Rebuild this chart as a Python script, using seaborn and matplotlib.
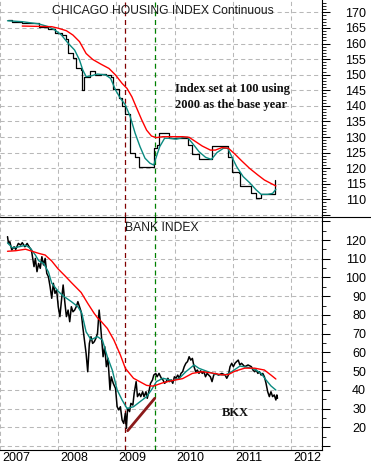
import numpy as np
import pandas as pd
import matplotlib
matplotlib.use("Agg")
import matplotlib.pyplot as plt
import matplotlib.transforms as mtransforms
from matplotlib.lines import Line2D
from matplotlib.ticker import MultipleLocator, FuncFormatter
import seaborn as sns

# ---------------- data (decimal years) ----------------
# Chicago housing index, monthly (drawn as steps)
house_year = [2007.129, 2007.213, 2007.382, 2007.663, 2007.831, 2007.944, 2008.056, 2008.140,
              2008.169, 2008.253, 2008.309, 2008.382, 2008.410, 2008.449, 2008.551, 2008.629,
              2008.730, 2008.815, 2008.899, 2008.944, 2009.039, 2009.096, 2009.140, 2009.236,
              2009.320, 2009.393, 2009.640, 2009.697, 2009.730, 2009.899, 2010.236, 2010.303,
              2010.416, 2010.640, 2010.910, 2010.989, 2011.101, 2011.118, 2011.303, 2011.399,
              2011.483, 2011.719]
house_value = [167.5, 167.0, 166.7, 165.2, 164.6, 163.3, 162.7, 161.3,
               157.1, 155.2, 152.0, 151.5, 145.1, 149.4, 151.3, 149.9,
               150.2, 149.9, 149.4, 145.3, 142.4, 140.0, 137.4, 125.0,
               123.7, 120.5, 126.4, 127.4, 131.2, 129.8, 127.4, 124.6,
               122.8, 127.1, 123.7, 118.9, 118.3, 114.3, 112.1, 110.3,
               111.7, 116.2]

house_fast_year = [2007.129, 2007.382, 2007.663, 2007.831, 2007.944, 2008.056, 2008.169, 2008.281,
                   2008.365, 2008.421, 2008.478, 2008.562, 2008.674, 2008.815, 2008.899, 2008.983,
                   2009.067, 2009.152, 2009.236, 2009.320, 2009.404, 2009.489, 2009.573, 2009.640,
                   2009.685, 2009.742, 2009.826, 2009.910, 2010.022, 2010.135, 2010.219, 2010.303,
                   2010.416, 2010.528, 2010.629, 2010.725, 2010.837, 2010.910, 2010.978, 2011.062,
                   2011.174, 2011.287, 2011.399, 2011.483, 2011.596, 2011.680, 2011.736]
house_fast_value = [167.3, 167.0, 166.3, 165.4, 164.3, 162.7, 160.1, 157.9,
                    154.7, 151.5, 149.4, 149.6, 150.2, 149.9, 148.8, 145.1,
                    142.4, 140.3, 136.5, 131.2, 126.9, 123.2, 121.6, 121.0,
                    123.7, 126.9, 129.6, 129.6, 129.3, 129.8, 129.9, 128.0,
                    125.3, 123.5, 122.8, 125.0, 126.4, 126.4, 123.7, 120.5,
                    117.3, 115.3, 113.0, 111.6, 111.6, 111.9, 113.2]

house_slow_year = [2007.382, 2007.888, 2008.000, 2008.140, 2008.253, 2008.365, 2008.478, 2008.590,
                   2008.730, 2008.871, 2008.983, 2009.096, 2009.180, 2009.264, 2009.348, 2009.433,
                   2009.517, 2009.601, 2009.685, 2009.798, 2009.966, 2010.135, 2010.247, 2010.360,
                   2010.472, 2010.612, 2010.697, 2010.809, 2010.921, 2011.034, 2011.146, 2011.287,
                   2011.427, 2011.539, 2011.652, 2011.736]
house_slow_value = [165.6, 165.4, 164.9, 164.1, 162.7, 160.6, 156.8, 154.9,
                    153.4, 152.0, 149.9, 147.2, 145.6, 142.9, 139.2, 135.5,
                    132.2, 130.3, 129.8, 130.1, 130.1, 130.1, 129.9, 128.5,
                    127.1, 125.8, 125.8, 126.6, 126.4, 124.5, 122.4, 119.9,
                    117.8, 116.2, 115.1, 114.3]

# Bank index (BKX)
bank_year = [2007.129, 2007.146, 2007.169, 2007.202, 2007.242, 2007.270, 2007.315, 2007.354, 2007.382, 2007.427,
             2007.466, 2007.506, 2007.539, 2007.562, 2007.584, 2007.607, 2007.635, 2007.663, 2007.691, 2007.719,
             2007.747, 2007.775, 2007.803, 2007.831, 2007.860, 2007.888, 2007.916, 2007.944, 2007.972, 2008.000,
             2008.028, 2008.056, 2008.084, 2008.112, 2008.140, 2008.169, 2008.197, 2008.225, 2008.253, 2008.281,
             2008.309, 2008.337, 2008.365, 2008.393, 2008.421, 2008.449, 2008.478, 2008.506, 2008.534, 2008.562,
             2008.590, 2008.618, 2008.646, 2008.674, 2008.702, 2008.719, 2008.742, 2008.770, 2008.798, 2008.826,
             2008.854, 2008.888, 2008.910, 2008.944, 2008.983, 2009.011, 2009.039, 2009.067, 2009.096, 2009.124,
             2009.152, 2009.169, 2009.191, 2009.225, 2009.247, 2009.281, 2009.303, 2009.337, 2009.360, 2009.393,
             2009.416, 2009.449, 2009.472, 2009.506, 2009.528, 2009.562, 2009.584, 2009.618, 2009.640, 2009.674,
             2009.697, 2009.730, 2009.770, 2009.798, 2009.826, 2009.854, 2009.882, 2009.910, 2009.938, 2009.966,
             2009.994, 2010.022, 2010.051, 2010.079, 2010.107, 2010.135, 2010.163, 2010.191, 2010.219, 2010.247,
             2010.275, 2010.303, 2010.331, 2010.360, 2010.388, 2010.416, 2010.444, 2010.472, 2010.500, 2010.528,
             2010.556, 2010.612, 2010.640, 2010.669, 2010.697, 2010.753, 2010.809, 2010.865, 2010.893, 2010.921,
             2010.949, 2010.978, 2011.006, 2011.034, 2011.062, 2011.090, 2011.118, 2011.146, 2011.202, 2011.258,
             2011.315, 2011.343, 2011.371, 2011.399, 2011.427, 2011.455, 2011.483, 2011.511, 2011.539, 2011.567,
             2011.596, 2011.624, 2011.652, 2011.680, 2011.708, 2011.736, 2011.753, 2011.764]
bank_value = [121.8, 118.2, 119.1, 114.7, 116.4, 115.0, 118.2, 117.3, 118.6, 116.4,
              118.2, 116.1, 114.7, 110.2, 105.8, 110.2, 103.1, 107.5, 104.9, 111.1,
              106.7, 110.2, 102.2, 100.4, 95.1, 88.9, 96.9, 91.5, 93.3, 84.4,
              79.1, 88.0, 96.0, 87.1, 79.1, 82.6, 76.4, 84.4, 81.7, 82.6,
              84.4, 87.1, 84.4, 81.7, 73.7, 66.6, 59.5, 49.7, 64.8, 68.4,
              64.8, 65.7, 67.5, 70.2, 82.6, 77.3, 68.4, 57.7, 63.1, 52.4,
              56.8, 40.0, 47.0, 43.5, 40.8, 31.0, 29.3, 31.0, 23.9, 22.1,
              27.5, 19.5, 30.1, 28.4, 32.8, 31.9, 38.1, 44.4, 36.4, 38.1,
              36.4, 39.0, 36.4, 39.0, 35.5, 40.0, 43.5, 45.3, 47.9, 48.8,
              47.0, 48.8, 46.2, 45.3, 43.5, 44.4, 46.2, 44.4, 45.3, 43.5,
              47.0, 46.2, 47.9, 46.2, 48.8, 49.7, 52.4, 54.2, 55.1, 57.7,
              55.9, 56.8, 52.4, 49.7, 50.6, 48.8, 50.2, 48.8, 49.7, 47.0,
              48.8, 47.0, 44.4, 47.9, 48.8, 47.9, 48.8, 47.9, 46.2, 47.9,
              52.4, 54.2, 52.4, 54.2, 55.1, 55.9, 53.3, 54.2, 52.4, 53.3,
              52.4, 50.6, 49.7, 50.6, 48.8, 49.7, 47.9, 48.8, 47.0, 43.5,
              39.0, 36.4, 39.0, 36.4, 37.3, 34.6, 37.3, 35.5]

bank_fast_year = [2007.129, 2007.213, 2007.326, 2007.438, 2007.522, 2007.607, 2007.663, 2007.747,
                  2007.831, 2007.888, 2008.000, 2008.084, 2008.225, 2008.337, 2008.404, 2008.478,
                  2008.562, 2008.674, 2008.758, 2008.843, 2008.927, 2009.011, 2009.096, 2009.180,
                  2009.292, 2009.404, 2009.517, 2009.601, 2009.685, 2009.798, 2009.966, 2010.079,
                  2010.191, 2010.331, 2010.416, 2010.528, 2010.697, 2010.865, 2010.978, 2011.118,
                  2011.258, 2011.371, 2011.483, 2011.567, 2011.652, 2011.736]
bank_fast_value = [118.5, 115.8, 116.4, 117.2, 115.6, 112.0, 109.0, 107.5,
                   103.0, 97.0, 92.6, 90.2, 87.1, 84.4, 81.0, 71.0,
                   66.8, 68.4, 66.6, 57.7, 50.6, 40.0, 34.6, 30.1,
                   31.0, 33.7, 36.4, 40.0, 44.4, 46.2, 44.9, 46.2,
                   49.7, 53.3, 51.5, 50.2, 48.3, 47.9, 49.7, 52.7,
                   52.0, 51.0, 48.8, 45.3, 42.1, 39.9]

bank_slow_year = [2007.129, 2007.270, 2007.438, 2007.551, 2007.663, 2007.775, 2007.888, 2008.000,
                  2008.112, 2008.225, 2008.393, 2008.506, 2008.618, 2008.674, 2008.730, 2008.843,
                  2008.955, 2009.067, 2009.152, 2009.292, 2009.517, 2009.629, 2009.798, 2009.966,
                  2010.135, 2010.303, 2010.472, 2010.640, 2010.809, 2010.921, 2011.034, 2011.202,
                  2011.371, 2011.539, 2011.652, 2011.736]
bank_slow_value = [114.0, 114.3, 115.1, 114.0, 112.9, 112.0, 108.8, 104.5,
                   101.0, 97.3, 92.0, 86.2, 80.8, 78.5, 76.8, 72.8,
                   66.6, 58.6, 51.5, 46.2, 42.4, 42.0, 43.8, 45.0,
                   46.0, 48.8, 49.7, 49.0, 48.0, 48.2, 50.0, 51.6,
                   51.6, 50.6, 47.9, 45.8]

trend_year = [2009.191, 2009.657]
trend_value = [18.2, 35.5]

event_dates = [2009.141, 2009.658]
year_ticks = [2007, 2008, 2009, 2010, 2011, 2012]
house_ticks = list(range(105, 171, 5))
bank_ticks = list(range(10, 131, 10))

# ---------------- styling ----------------
sns.set_style("white")
plt.rcParams["font.family"] = ["Liberation Sans", "DejaVu Sans"]

W, H = 371, 465
SEP, BOT = 217, 450
fig = plt.figure(figsize=(W / 100, H / 100), dpi=100)
ax1 = fig.add_axes([0, 1 - SEP / H, 322 / W, SEP / H])
ax2 = fig.add_axes([0, 1 - BOT / H, 322 / W, (BOT - SEP) / H])

BLACK = "#000000"
TEAL = "#0a8a80"
RED = "#ff0000"
GRID = "#b8b8b8"
dash = (0, (4, 3))

df_h = pd.DataFrame({"year": house_year, "value": house_value})
df_hf = pd.DataFrame({"year": house_fast_year, "value": house_fast_value})
df_hs = pd.DataFrame({"year": house_slow_year, "value": house_slow_value})
sns.lineplot(data=df_h, x="year", y="value", ax=ax1, color=BLACK, lw=0.9,
             drawstyle="steps-post", estimator=None)
sns.lineplot(data=df_hf, x="year", y="value", ax=ax1, color=TEAL, lw=1.0, estimator=None)
sns.lineplot(data=df_hs, x="year", y="value", ax=ax1, color=RED, lw=1.0, estimator=None)

df_b = pd.DataFrame({"year": bank_year, "value": bank_value})
df_bf = pd.DataFrame({"year": bank_fast_year, "value": bank_fast_value})
df_bs = pd.DataFrame({"year": bank_slow_year, "value": bank_slow_value})
df_t = pd.DataFrame({"year": trend_year, "value": trend_value})
sns.lineplot(data=df_b, x="year", y="value", ax=ax2, color=BLACK, lw=1.1, estimator=None)
sns.lineplot(data=df_bf, x="year", y="value", ax=ax2, color=TEAL, lw=1.0, estimator=None)
sns.lineplot(data=df_bs, x="year", y="value", ax=ax2, color=RED, lw=1.0, estimator=None)
sns.lineplot(data=df_t, x="year", y="value", ax=ax2, color="#8b1a1a", lw=2.0, estimator=None)

for ax in (ax1, ax2):
    ax.set_xlim(2007.101, 2012.528)
    ax.set_xlabel("")
    ax.set_ylabel("")
    ax.set_xticks(year_ticks)
    ax.set_xticklabels([""] * len(year_ticks))
    ax.grid(True, which="major", color=GRID, linestyle=dash, linewidth=0.75)
    ax.set_axisbelow(True)
    ax.axvline(event_dates[0], color="#800000", linestyle=dash, lw=0.9, zorder=1)
    ax.axvline(event_dates[1], color="#008000", linestyle=dash, lw=0.9, zorder=1)
    ax.yaxis.tick_right()
    ax.tick_params(axis="y", which="major", direction="out", length=5.8, width=0.75,
                   pad=25.9, labelsize=9, colors="black")
    ax.tick_params(axis="y", which="minor", direction="out", length=2.9, width=0.6, colors="black")
    for s in ("top", "left"):
        ax.spines[s].set_visible(False)
    ax.spines["right"].set_color("black")
    ax.spines["right"].set_linewidth(0.8)
    ax.set_facecolor("white")

ax1.spines["bottom"].set_visible(False)
ax2.spines["bottom"].set_color("black")
ax2.spines["bottom"].set_linewidth(0.8)

ax1.set_ylim(104.33, 173.96)
ax1.set_yticks(house_ticks)
ax1.yaxis.set_minor_locator(MultipleLocator(1))
ax1.yaxis.set_major_formatter(FuncFormatter(lambda v, p: "" if v < 108 else f"{v:.0f}"))
ax1.tick_params(axis="x", length=0)

ax2.set_ylim(7.9, 132.3)
ax2.set_yticks(bank_ticks)
ax2.yaxis.set_minor_locator(MultipleLocator(5))
ax2.yaxis.set_major_formatter(FuncFormatter(lambda v, p: "" if (v < 15 or v > 125) else f"{v:.0f}"))
ax2.tick_params(axis="x", which="major", direction="out", length=12.0, width=0.8, colors="black")

# year labels to the right of the tick marks
off = mtransforms.ScaledTranslation(2 / 100, -7.7 / 100, fig.dpi_scale_trans)
for yr in year_ticks:
    ax2.text(yr, 0, str(yr), transform=ax2.get_xaxis_transform() + off,
             ha="left", va="center", fontsize=9, color="black", clip_on=False)

# separator line between panels (full width)
fig.add_artist(Line2D([0, 1], [1 - SEP / H, 1 - SEP / H], transform=fig.transFigure,
                      color="black", lw=0.8))

# titles and annotations
ax1.text(52 / 322, 1 - 11 / SEP, "CHICAGO HOUSING INDEX Continuous", transform=ax1.transAxes,
         ha="left", va="center", fontsize=8.7, color="#1a1a1a")
ax2.text(125 / 322, 1 - 10.5 / (BOT - SEP), "BANK INDEX", transform=ax2.transAxes,
         ha="left", va="center", fontsize=8.7, color="#1a1a1a")
serif = ["Liberation Serif", "DejaVu Serif"]
ax1.text(175.5 / 322, 1 - 89 / SEP, "Index set at 100 using", transform=ax1.transAxes,
         ha="left", va="center", fontsize=9, fontweight="bold", family=serif, color="#111111")
ax1.text(175.5 / 322, 1 - 105 / SEP, "2000 as the base year", transform=ax1.transAxes,
         ha="left", va="center", fontsize=9, fontweight="bold", family=serif, color="#111111")
ax2.text(221.5 / 322, 1 - 196.3 / (BOT - SEP), "BKX", transform=ax2.transAxes,
         ha="left", va="center", fontsize=9, fontweight="bold", family=serif, color="#111111")

for ax in (ax1, ax2):
    for lbl in ax.get_yticklabels():
        lbl.set_horizontalalignment("right")

fig.savefig("out.png", dpi=100, facecolor="white")
